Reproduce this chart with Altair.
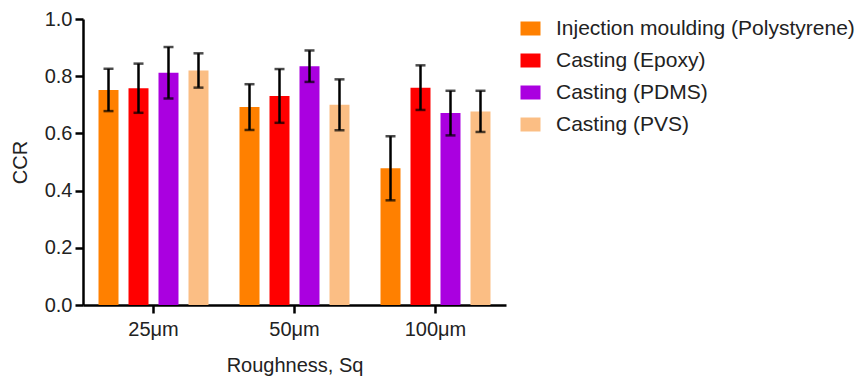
import altair as alt
import pandas as pd

categories = ["25μm", "50μm", "100μm"]
series = ["Injection moulding (Polystyrene)", "Casting (Epoxy)", "Casting (PDMS)", "Casting (PVS)"]
colors = ["#FF8000", "#FF0000", "#AA00E0", "#FBBE84"]

# mean values per series, in category order
means = {
    "Injection moulding (Polystyrene)": [0.752, 0.692, 0.478],
    "Casting (Epoxy)": [0.758, 0.731, 0.760],
    "Casting (PDMS)": [0.812, 0.835, 0.671],
    "Casting (PVS)": [0.820, 0.700, 0.677],
}
# error (± SD) per series
errors = {
    "Injection moulding (Polystyrene)": [0.074, 0.080, 0.112],
    "Casting (Epoxy)": [0.086, 0.094, 0.078],
    "Casting (PDMS)": [0.090, 0.055, 0.078],
    "Casting (PVS)": [0.060, 0.089, 0.072],
}

rows = []
for s in series:
    for i, c in enumerate(categories):
        m = means[s][i]
        e = errors[s][i]
        rows.append({"cat": c, "series": s, "mean": m, "lo": m - e, "hi": m + e})
df = pd.DataFrame(rows)

FONT = "Liberation Sans"
FS = 20

x = alt.X("cat:N", sort=categories,
          scale=alt.Scale(paddingInner=0.22, paddingOuter=0.11),
          axis=alt.Axis(title="Roughness, Sq", labelAngle=0, labelFontSize=FS,
                        titleFontSize=FS, labelPadding=6, titlePadding=16,
                        tickSize=8))
xoff = alt.XOffset("series:N", sort=series,
                   scale=alt.Scale(paddingInner=1/3, paddingOuter=0))
color = alt.Color("series:N", sort=series,
                  scale=alt.Scale(domain=series, range=colors),
                  legend=alt.Legend(title=None, orient="none", legendX=437, legendY=-1,
                                    symbolType="M-1,-0.7H1V0.7H-1Z", symbolSize=400,
                                    symbolStrokeWidth=0, symbolOpacity=1,
                                    labelFontSize=21, labelOffset=15, rowPadding=10,
                                    padding=0, labelLimit=400))

bars = alt.Chart(df).mark_bar(opacity=1).encode(
    x=x,
    xOffset=xoff,
    y=alt.Y("mean:Q", scale=alt.Scale(domain=[0, 1], nice=False),
            axis=alt.Axis(title="CCR", values=[0, 0.2, 0.4, 0.6, 0.8, 1.0], format=".1f",
                          labelFontSize=FS, titleFontSize=FS, tickSize=8,
                          labelPadding=3, titlePadding=14, grid=False)),
    color=color,
)

rule = alt.Chart(df).mark_rule(color="black", strokeWidth=2.5).encode(
    x=alt.X("cat:N", sort=categories),
    xOffset=alt.XOffset("series:N", sort=series),
    y="lo:Q",
    y2="hi:Q",
)
cap_lo = alt.Chart(df).mark_tick(color="black", thickness=2.5, size=10, orient="horizontal").encode(
    x=alt.X("cat:N", sort=categories),
    xOffset=alt.XOffset("series:N", sort=series),
    y="lo:Q",
)
cap_hi = alt.Chart(df).mark_tick(color="black", thickness=2.5, size=10, orient="horizontal").encode(
    x=alt.X("cat:N", sort=categories),
    xOffset=alt.XOffset("series:N", sort=series),
    y="hi:Q",
)

chart = alt.layer(bars, rule, cap_lo, cap_hi).properties(
    width=423, height=286,
    autosize=alt.AutoSizeParams(type="none"),
    padding={"left": 83, "top": 19, "right": 360, "bottom": 71},
).configure_view(stroke=None).configure_axis(
    domainColor="black", domainWidth=2.5, tickColor="black", tickWidth=2.5,
    labelColor="#222", titleColor="#222", labelFont=FONT, titleFont=FONT,
    titleFontWeight="normal",
).configure_legend(labelFont=FONT, labelColor="#222")

chart.save("out.html", embed_options={"renderer": "svg", "actions": False})
